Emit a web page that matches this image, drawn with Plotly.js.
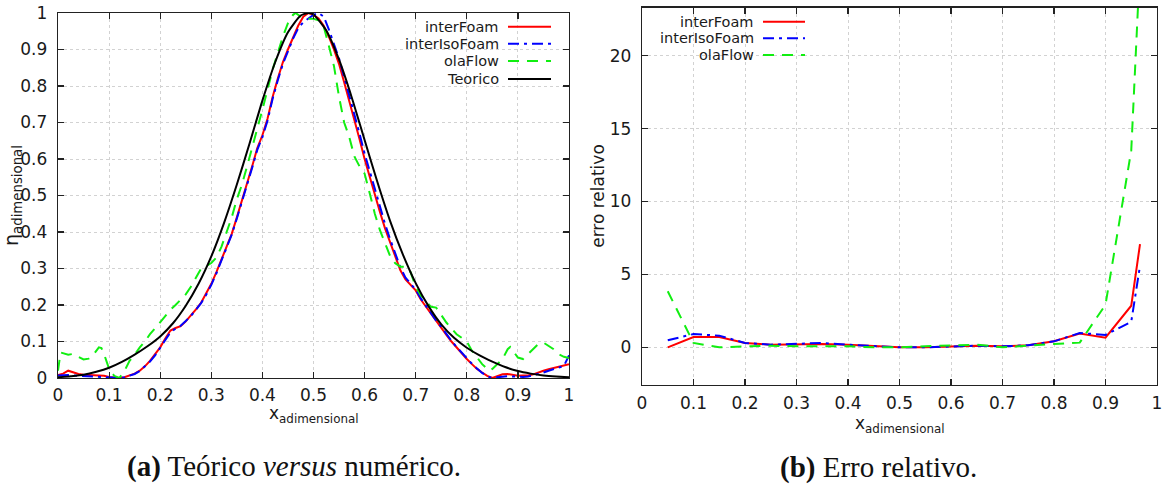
<!DOCTYPE html>
<html>
<head>
<meta charset="utf-8">
<script src="https://cdn.plot.ly/plotly-3.0.1.min.js"></script>
<style>html,body{margin:0;padding:0;background:#fff;}#chart{width:1171px;height:486px;}</style>
</head>
<body>
<div id="chart"></div>
<script>
// ---------- data: (a) profiles ----------
const xSim = [0,0.01,0.02,0.03,0.04,0.05,0.06,0.07,0.08,0.09,0.1,0.11,0.12,0.13,0.14,0.15,0.16,0.17,0.18,0.19,0.2,0.21,0.22,0.23,0.24,0.25,0.26,0.27,0.28,0.29,0.3,0.31,0.32,0.33,0.34,0.35,0.36,0.37,0.38,0.39,0.4,0.41,0.42,0.43,0.44,0.45,0.46,0.47,0.48,0.49,0.5,0.51,0.52,0.53,0.54,0.55,0.56,0.57,0.58,0.59,0.6,0.61,0.62,0.63,0.64,0.65,0.66,0.67,0.68,0.69,0.7,0.71,0.72,0.73,0.74,0.75,0.76,0.77,0.78,0.79,0.8,0.81,0.82,0.83,0.84,0.85,0.86,0.87,0.88,0.89,0.9,0.91,0.92,0.93,0.94,0.95,0.96,0.97,0.98,0.99,1.0];
const interFoamEta = [0.008,0.012,0.02,0.015,0.011,0.009,0.008,0.008,0.008,0.006,0.003,0.001,0.0,0.002,0.007,0.012,0.02,0.032,0.047,0.064,0.084,0.108,0.13,0.137,0.142,0.155,0.17,0.188,0.206,0.23,0.258,0.29,0.325,0.36,0.395,0.44,0.485,0.53,0.58,0.63,0.665,0.71,0.77,0.82,0.865,0.9,0.935,0.965,0.99,1.0,0.995,0.985,0.965,0.935,0.9,0.86,0.81,0.76,0.71,0.655,0.6,0.55,0.505,0.455,0.41,0.37,0.33,0.295,0.27,0.255,0.24,0.215,0.195,0.175,0.155,0.138,0.118,0.1,0.083,0.068,0.052,0.038,0.025,0.015,0.006,0.0,0.004,0.01,0.011,0.008,0.006,0.007,0.007,0.01,0.016,0.02,0.024,0.027,0.03,0.034,0.038];
const interIsoFoamEta = [0.007,0.008,0.008,0.007,0.006,0.005,0.004,0.004,0.004,0.003,0.002,0.001,0.0,0.002,0.006,0.011,0.019,0.031,0.045,0.062,0.082,0.104,0.125,0.135,0.143,0.156,0.17,0.187,0.205,0.228,0.255,0.287,0.322,0.357,0.393,0.437,0.482,0.528,0.576,0.625,0.66,0.705,0.765,0.815,0.86,0.895,0.93,0.958,0.975,0.985,0.995,1.0,0.99,0.955,0.915,0.875,0.825,0.775,0.725,0.67,0.615,0.565,0.517,0.468,0.422,0.38,0.34,0.303,0.275,0.258,0.242,0.218,0.197,0.177,0.157,0.14,0.12,0.102,0.085,0.069,0.053,0.039,0.026,0.014,0.005,0.0,0.002,0.004,0.005,0.004,0.003,0.003,0.004,0.007,0.011,0.015,0.02,0.025,0.029,0.033,0.062];
const xOla = [0,0.005,0.02,0.03,0.04,0.05,0.06,0.07,0.08,0.085,0.09,0.1,0.11,0.12,0.13,0.14,0.15,0.16,0.17,0.18,0.19,0.2,0.21,0.22,0.23,0.24,0.25,0.26,0.27,0.28,0.29,0.3,0.31,0.32,0.33,0.34,0.35,0.36,0.37,0.38,0.39,0.4,0.41,0.42,0.43,0.44,0.45,0.46,0.465,0.47,0.48,0.49,0.5,0.51,0.52,0.53,0.54,0.55,0.56,0.57,0.58,0.59,0.6,0.61,0.62,0.63,0.64,0.65,0.66,0.67,0.68,0.69,0.7,0.71,0.72,0.73,0.74,0.75,0.76,0.77,0.78,0.79,0.8,0.81,0.82,0.83,0.84,0.845,0.85,0.86,0.87,0.88,0.885,0.89,0.9,0.91,0.92,0.93,0.94,0.95,0.96,0.97,0.98,0.99,1.0];
const olaFlowEta = [0.02,0.07,0.064,0.066,0.058,0.051,0.053,0.065,0.084,0.082,0.066,0.025,0.006,0.0,0.019,0.047,0.064,0.084,0.1,0.12,0.136,0.154,0.17,0.187,0.2,0.215,0.229,0.25,0.275,0.3,0.307,0.315,0.33,0.36,0.4,0.44,0.49,0.53,0.58,0.63,0.68,0.735,0.79,0.845,0.89,0.935,0.972,0.995,1.0,0.995,0.985,0.984,0.984,0.98,0.963,0.91,0.855,0.77,0.7,0.66,0.607,0.58,0.56,0.506,0.45,0.405,0.37,0.334,0.314,0.305,0.305,0.29,0.25,0.227,0.21,0.195,0.193,0.172,0.152,0.136,0.12,0.11,0.1,0.075,0.058,0.038,0.025,0.02,0.025,0.038,0.052,0.079,0.085,0.075,0.056,0.052,0.065,0.079,0.093,0.097,0.088,0.079,0.065,0.058,0.055];
const xTeo = [0,0.025,0.05,0.075,0.1,0.125,0.15,0.175,0.2,0.225,0.25,0.275,0.3,0.325,0.35,0.375,0.4,0.425,0.45,0.475,0.49,0.5,0.525,0.55,0.575,0.6,0.625,0.65,0.675,0.7,0.725,0.75,0.775,0.8,0.825,0.85,0.875,0.9,0.925,0.95,0.975,1];
const teoricoEta = [0.002,0.005,0.009,0.017,0.028,0.044,0.064,0.087,0.114,0.15,0.198,0.258,0.333,0.425,0.53,0.643,0.76,0.865,0.947,0.993,1.0,0.996,0.952,0.872,0.768,0.652,0.537,0.43,0.338,0.26,0.197,0.147,0.11,0.083,0.062,0.045,0.03,0.019,0.012,0.007,0.004,0.002];

// ---------- data: (b) relative error ----------
const xErr = [0.05,0.1,0.15,0.2,0.25,0.3,0.35,0.4,0.45,0.5,0.55,0.6,0.65,0.7,0.75,0.8,0.85,0.9,0.95,0.967];
const interFoamErr = [0,0.7,0.7,0.3,0.18,0.23,0.23,0.18,0.07,0,0,0.07,0.11,0.07,0.14,0.41,0.94,0.66,2.85,7.08];
const interIsoFoamErr = [0.48,0.91,0.8,0.3,0.18,0.23,0.3,0.18,0.07,0,0,0.07,0.11,0.07,0.14,0.41,0.98,0.85,1.75,5.6];
const olaFlowErr = [3.84,0.3,0.0,0.07,0.11,0.07,0.07,0.07,0.0,0.0,0.07,0.14,0.18,0.0,0.14,0.23,0.32,2.92,13.5,26.3];

const seriesNames = ['interFoam','interIsoFoam','olaFlow','Teorico'];
const xTickVals = [0,0.1,0.2,0.3,0.4,0.5,0.6,0.7,0.8,0.9,1];
const xTitle = 'x<sub>adimensional</sub>';
const captionA = '<b>(a)</b> Teórico <i>versus</i> numérico.';
const captionB = '<b>(b)</b> Erro relativo.';

// ---------- styling ----------
const W = 1171, H = 486;
const px = v => v / W, py = v => 1 - v / H;
const RED = '#ff0000', BLUE = '#0000ff', GREEN = '#11ee11', BLACK = '#000000';
const DASH_BLUE = '11px,5px,3px,5px', DASH_GREEN = '11px,8px';
const FONT = 'DejaVu Sans, sans-serif';
const TXT = '#1a1a1a';

const styles = [
  {color: RED, dash: 'solid'},
  {color: BLUE, dash: DASH_BLUE},
  {color: GREEN, dash: DASH_GREEN},
  {color: BLACK, dash: 'solid'}
];

const traces = [
  {x: xSim, y: interFoamEta, name: seriesNames[0], xaxis: 'x', yaxis: 'y'},
  {x: xSim, y: interIsoFoamEta, name: seriesNames[1], xaxis: 'x', yaxis: 'y'},
  {x: xOla, y: olaFlowEta, name: seriesNames[2], xaxis: 'x', yaxis: 'y'},
  {x: xTeo, y: teoricoEta, name: seriesNames[3], xaxis: 'x', yaxis: 'y', spline: true},
  {x: xErr, y: interFoamErr, name: seriesNames[0], xaxis: 'x2', yaxis: 'y2', s: 0},
  {x: xErr, y: interIsoFoamErr, name: seriesNames[1], xaxis: 'x2', yaxis: 'y2', s: 1},
  {x: xErr, y: olaFlowErr, name: seriesNames[2], xaxis: 'x2', yaxis: 'y2', s: 2}
].map((t, i) => {
  const st = styles[t.s !== undefined ? t.s : i];
  return {
    type: 'scatter', mode: 'lines', x: t.x, y: t.y, name: t.name,
    xaxis: t.xaxis, yaxis: t.yaxis, showlegend: false, hoverinfo: 'skip',
    line: {color: st.color, dash: st.dash, width: 2, shape: t.spline ? 'spline' : 'linear', smoothing: 0.6}
  };
});

function axisBase(extra) {
  return Object.assign({
    showline: true, linecolor: '#222', linewidth: 1.3, mirror: 'allticks',
    ticks: 'inside', ticklen: 6, tickwidth: 1.2, tickcolor: '#222',
    showgrid: true, gridcolor: '#d2d2d2', griddash: 'dot', gridwidth: 1,
    zeroline: false, tickfont: {family: FONT, size: 17, color: TXT},
    automargin: false, fixedrange: true
  }, extra);
}

const layout = {
  width: W, height: H,
  margin: {l: 0, r: 0, t: 0, b: 0},
  paper_bgcolor: '#ffffff', plot_bgcolor: '#ffffff',
  showlegend: false,
  font: {family: FONT, color: TXT},
  xaxis: axisBase({domain: [px(58), px(569)], range: [0, 1], tickvals: xTickVals, anchor: 'y',
    ticklabelstandoff: 1}),
  yaxis: axisBase({domain: [py(378), py(13)], range: [0, 1], dtick: 0.1, anchor: 'x',
    ticklabelstandoff: 6,
    title: {text: 'η<sub>adimensional</sub>', font: {family: FONT, size: 19, color: TXT}, standoff: 0}}),
  xaxis2: axisBase({domain: [px(642), px(1157)], range: [0, 1], tickvals: xTickVals, anchor: 'y2',
    ticklabelstandoff: 3}),
  yaxis2: axisBase({domain: [py(384.5), py(7.5)], range: [-2.55, 23.3], dtick: 5, anchor: 'x2',
    ticklabelstandoff: 6,
    title: {text: 'erro relativo', font: {family: FONT, size: 17, color: TXT}, standoff: 0}}),
  annotations: [],
  shapes: []
};

// x-axis titles placed like the gnuplot originals
[[313.5, 414], [900, 424]].forEach(([cx, cy]) => {
  layout.annotations.push({
    xref: 'paper', yref: 'paper', x: px(cx), y: py(cy), xanchor: 'center', yanchor: 'middle',
    showarrow: false, text: xTitle, font: {family: FONT, size: 17, color: TXT}
  });
});

// custom gnuplot-style keys (text right, sample to its right)
function addKey(names, textRight, lineX0, lineX1, rows, stylesIdx) {
  names.forEach((n, i) => {
    const st = styles[stylesIdx[i]];
    layout.annotations.push({
      xref: 'paper', yref: 'paper', x: px(textRight), y: py(rows[i]),
      xanchor: 'right', yanchor: 'middle', showarrow: false, text: n,
      font: {family: FONT, size: 14.5, color: TXT}
    });
    layout.shapes.push({
      type: 'line', xref: 'paper', yref: 'paper',
      x0: px(lineX0), x1: px(lineX1), y0: py(rows[i]), y1: py(rows[i]),
      line: {color: st.color, dash: st.dash, width: 2}
    });
  });
}
addKey(seriesNames, 501, 508, 551, [26.7, 43.7, 61, 79], [0, 1, 2, 3]);
addKey(seriesNames.slice(0, 3), 756, 763, 805, [21.7, 38.3, 55], [0, 1, 2]);

// captions
layout.annotations.push({
  xref: 'paper', yref: 'paper', x: px(293.5), y: py(466), xanchor: 'center', yanchor: 'middle',
  showarrow: false, text: captionA, font: {family: 'Liberation Serif, serif', size: 29, color: '#111'}
});
layout.annotations.push({
  xref: 'paper', yref: 'paper', x: px(878), y: py(467), xanchor: 'center', yanchor: 'middle',
  showarrow: false, text: captionB, font: {family: 'Liberation Serif, serif', size: 29, color: '#111'}
});

Plotly.newPlot('chart', traces, layout, {displayModeBar: false, staticPlot: true});
</script>
</body>
</html>
